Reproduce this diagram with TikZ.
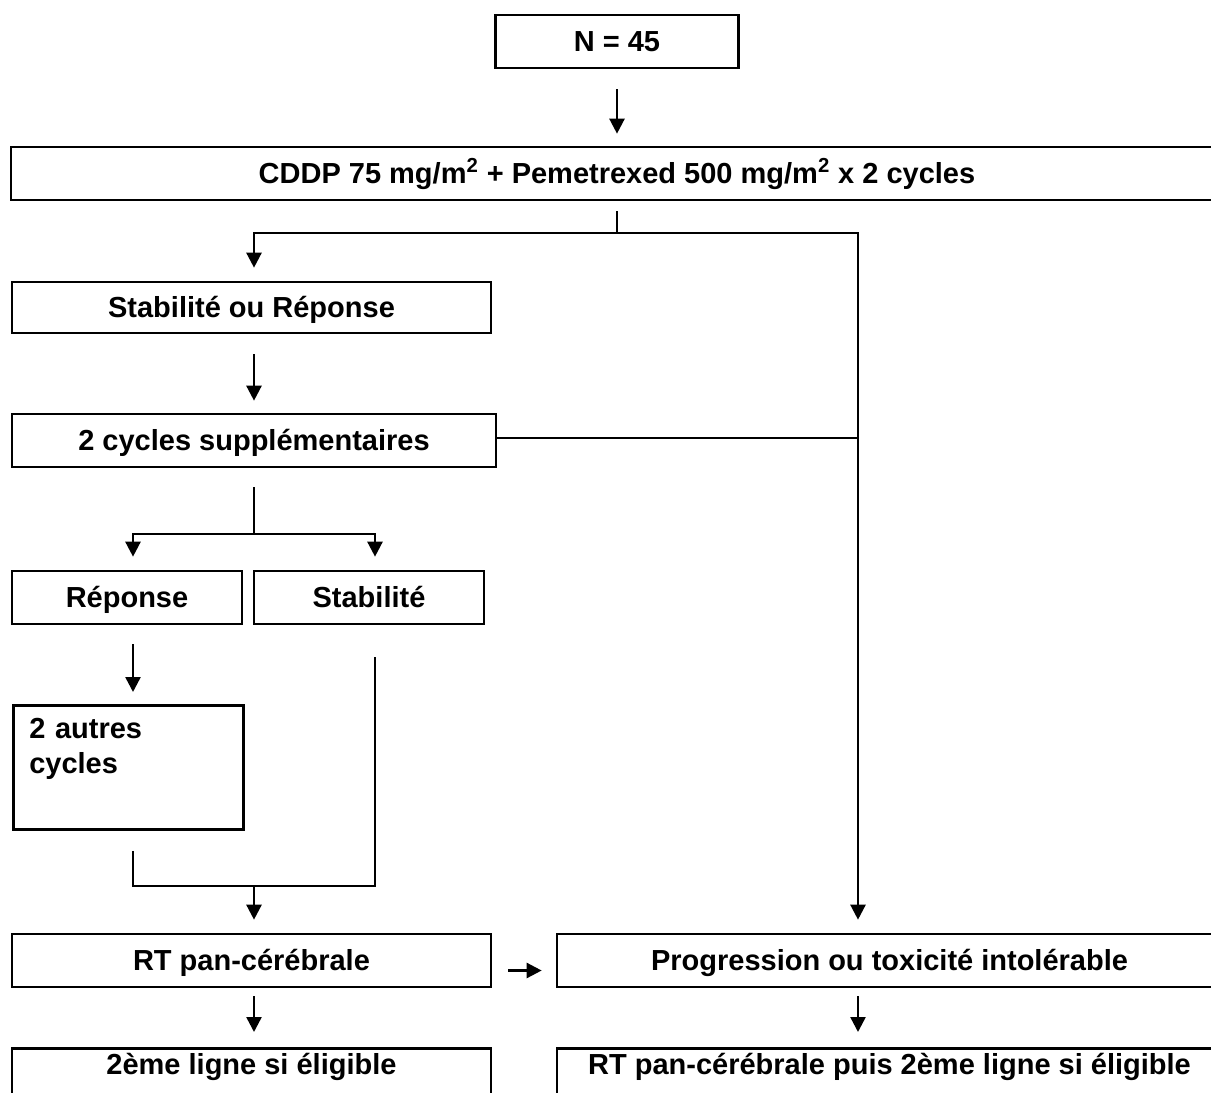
\documentclass[tikz,border=0pt]{standalone}
\usepackage{fontspec}
\setmainfont{Liberation Sans}
\usepackage{tikz}
\usetikzlibrary{positioning,arrows.meta}

\begin{document}
\begin{tikzpicture}[font=\bfseries\fontsize{16.5}{19.9}\selectfont,
  box/.style={draw,line width=1.5pt,minimum height=1.06cm,inner sep=0pt,text height=0.44cm,text depth=0.04cm,align=center},
  openbox/.style={draw,line width=1.5pt,anchor=north,inner xsep=0pt,inner ysep=0.1cm,text height=0.42cm,text depth=0.9cm,align=center},
  ln/.style={line width=1.4pt},
  ar/.style={-{Triangle[length=0.3cm,width=0.3cm]},line width=1.4pt},
]
\useasboundingbox (0,0) rectangle (24.22,-21.86);
\clip (0,0) rectangle (24.22,-21.86);

\node[box,minimum width=4.86cm] at (12.34,-0.83) (n45) {N = 45};
\node[box,minimum width=24.24cm] at (12.34,-3.47) (cddp)
  {CDDP 75 mg/m\textsuperscript{2} + Pemetrexed 500 mg/m\textsuperscript{2} x 2 cycles};
\node[box,minimum width=9.58cm,minimum height=1.02cm] at (5.03,-6.15) (stab) {Stabilité ou Réponse};
\node[box,minimum width=9.68cm] at (5.08,-8.81) (supp) {2 cycles supplémentaires};
\node[box,minimum width=4.6cm] at (2.54,-11.95) (rep) {Réponse};
\node[box,minimum width=4.6cm] at (7.38,-11.95) (stb) {Stabilité};
\node[draw,line width=1.5pt,anchor=north west,align=left,text width=3.96cm,inner xsep=0.32cm,
  inner ysep=0.26cm,text depth=1.56cm] at (0.24,-14.08) (autres) {2 autres\\cycles};
\node[box,minimum width=9.58cm] at (5.03,-19.21) (rt) {RT pan-cérébrale};
\node[box,minimum width=13.3cm] at (17.79,-19.21) (prog) {Progression ou toxicité intolérable};
\node[openbox,minimum width=9.58cm] at (5.03,-20.94) (lig1) {2ème ligne si éligible};
\node[openbox,minimum width=13.3cm] at (17.79,-20.94) (lig2) {RT pan-cérébrale puis 2ème ligne si éligible};

\coordinate (j1) at (12.34,-4.66);
\coordinate (j2) at (5.08,-10.68);
\coordinate (j3) at (5.08,-17.72);
\coordinate (cL) at (5.08,0);
\coordinate (cR) at (17.16,0);
\coordinate (cA) at (2.66,0);
\coordinate (cB) at (7.5,0);

\draw[ar,shorten <=4mm,shorten >=2.4mm] (n45.south) -- (n45.south |- cddp.north);
\draw[ln,shorten <=2mm] (cddp.south -| j1) -- (j1);
\draw[ar,shorten >=2.6mm] (j1) -| (stab.north -| cL);
\draw[ar,shorten >=2.6mm] (j1) -| (prog.north -| cR);
\draw[ar,shorten <=4mm,shorten >=2.4mm] (stab.south -| cL) -- (supp.north -| cL);
\draw[ln] ([yshift=0.05cm]supp.east) -- ([yshift=0.05cm]supp.east -| cR);
\draw[ln,shorten <=3.8mm] (supp.south -| j2) -- (j2);
\draw[ar,shorten >=2.6mm] (j2) -| (rep.north -| cA);
\draw[ar,shorten >=2.6mm] (j2) -| (stb.north -| cB);
\draw[ar,shorten <=3.8mm,shorten >=2.4mm] (rep.south -| cA) -- (autres.north -| cA);
\draw[ln,shorten <=4mm,shorten >=6.4mm] (autres.south -| cA) |- (j3 -| cB) -- (stb.south -| cB);
\draw[ar,shorten >=2.6mm] (j3) -- (rt.north -| j3);
\draw[ar] ([shift={(0.32,-0.2)}]rt.east) -- ([shift={(-0.28,-0.2)}]prog.west);
\draw[ar,shorten <=1.6mm,shorten >=3mm] (rt.south -| cL) -- (lig1.north -| cL);
\draw[ar,shorten <=1.6mm,shorten >=3mm] (prog.south -| cR) -- (lig2.north -| cR);
\end{tikzpicture}
\end{document}
